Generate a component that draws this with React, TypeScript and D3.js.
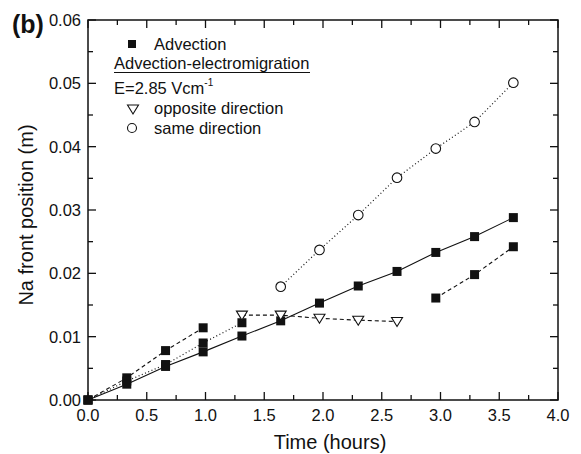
import * as d3 from 'd3'
import { FC } from 'react'

const WIDTH = 581
const HEIGHT = 454
const MARGIN = { top: 20, right: 23, bottom: 54, left: 88 }
const FONT = 'Liberation Sans, Arial, sans-serif'

// Advection, solid line
const advTime = [0, 0.33, 0.66, 0.98, 1.31, 1.64, 1.97, 2.3, 2.63, 2.96, 3.29, 3.62]
const advFront = [0, 0.0025, 0.0053, 0.0076, 0.0101, 0.0125, 0.0153, 0.018, 0.0203, 0.0233, 0.0258, 0.0288]

// Advection, dashed (early run)
const advDashTime = [0, 0.33, 0.66, 0.98]
const advDashFront = [0, 0.0035, 0.0078, 0.0114]

// Advection, dotted
const advDotTime = [0, 0.33, 0.66, 0.98, 1.31]
const advDotFront = [0, 0.003, 0.0056, 0.009, 0.0122]

// Advection, dashed (late run)
const advLateTime = [2.96, 3.29, 3.62]
const advLateFront = [0.0161, 0.0198, 0.0242]

// opposite direction (triangles)
const oppTime = [1.31, 1.64, 1.97, 2.3, 2.63]
const oppFront = [0.0134, 0.0134, 0.0129, 0.0126, 0.0124]

// same direction (circles)
const sameTime = [1.64, 1.97, 2.3, 2.63, 2.96, 3.29, 3.62]
const sameFront = [0.0179, 0.0237, 0.0292, 0.0351, 0.0397, 0.0439, 0.0501]

const xTicks = [0, 0.5, 1, 1.5, 2, 2.5, 3, 3.5, 4]
const yTicks = [0, 0.01, 0.02, 0.03, 0.04, 0.05, 0.06]

const zip = (xs: number[], ys: number[]) => xs.map((x, i) => [x, ys[i]] as [number, number])

const App: FC = () => {
  const bw = WIDTH - MARGIN.left - MARGIN.right
  const bh = HEIGHT - MARGIN.top - MARGIN.bottom

  const x = d3.scaleLinear().domain([0, 4]).range([0, bw])
  const y = d3.scaleLinear().domain([0, 0.06]).range([bh, 0])
  const line = d3.line().x((d) => x(d[0])).y((d) => y(d[1]))

  const xMinor = d3.range(0.25, 4, 0.5)
  const yMinor = d3.range(0.005, 0.06, 0.01)

  const squares = (pts: [number, number][], k: string) =>
    pts.map((p, i) => (
      <rect key={k + i} x={x(p[0]) - 4.5} y={y(p[1]) - 4.5} width={9} height={9} fill='#111' />
    ))

  const tri = (cx: number, cy: number) =>
    `M${cx - 5.5},${cy - 4}L${cx + 5.5},${cy - 4}L${cx},${cy + 5}Z`

  return (
    <svg width={WIDTH} height={HEIGHT} style={{ position: 'absolute', left: 0, top: 0 }}
      fontFamily={FONT}>
      <rect width={WIDTH} height={HEIGHT} fill='white' />
      <text x={12} y={33} fontSize={25} fontWeight='bold' fill='#111'>(b)</text>
      <g transform={`translate(${MARGIN.left},${MARGIN.top})`}>
        {/* frame */}
        <rect x={0} y={0} width={bw} height={bh} fill='none' stroke='#111' strokeWidth={1.5} />

        {/* ticks, inside on all four sides */}
        {xTicks.map((t) => (
          <g key={'xt' + t}>
            <line x1={x(t)} x2={x(t)} y1={bh} y2={bh - 8} stroke='#111' strokeWidth={1.3} />
            <line x1={x(t)} x2={x(t)} y1={0} y2={8} stroke='#111' strokeWidth={1.3} />
            <text x={x(t)} y={bh + 21} fontSize={16.5} textAnchor='middle' fill='#111'>{t.toFixed(1)}</text>
          </g>
        ))}
        {xMinor.map((t) => (
          <g key={'xm' + t}>
            <line x1={x(t)} x2={x(t)} y1={bh} y2={bh - 5} stroke='#111' strokeWidth={1.3} />
            <line x1={x(t)} x2={x(t)} y1={0} y2={5} stroke='#111' strokeWidth={1.3} />
          </g>
        ))}
        {yTicks.map((t) => (
          <g key={'yt' + t}>
            <line x1={0} x2={8} y1={y(t)} y2={y(t)} stroke='#111' strokeWidth={1.3} />
            <line x1={bw} x2={bw - 8} y1={y(t)} y2={y(t)} stroke='#111' strokeWidth={1.3} />
            <text x={-7} y={y(t) + 6} fontSize={16.5} textAnchor='end' fill='#111'>{t.toFixed(2)}</text>
          </g>
        ))}
        {yMinor.map((t) => (
          <g key={'ym' + t}>
            <line x1={0} x2={5} y1={y(t)} y2={y(t)} stroke='#111' strokeWidth={1.3} />
            <line x1={bw} x2={bw - 5} y1={y(t)} y2={y(t)} stroke='#111' strokeWidth={1.3} />
          </g>
        ))}

        {/* axis titles */}
        <text x={242} y={bh + 49} fontSize={20} textAnchor='middle' fill='#111'>Time (hours)</text>
        <text transform={`translate(${-55},${195}) rotate(-90)`} fontSize={20} textAnchor='middle' fill='#111'>
          Na front position (m)
        </text>

        {/* lines */}
        <path d={line(zip(advTime, advFront)) as string} fill='none' stroke='#111' strokeWidth={1.1} />
        <path d={line(zip(advDashTime, advDashFront)) as string} fill='none' stroke='#111' strokeWidth={1.1} strokeDasharray='4,3' />
        <path d={line(zip(advDotTime, advDotFront)) as string} fill='none' stroke='#111' strokeWidth={1.2} strokeDasharray='1,2.5' />
        <path d={line(zip(advLateTime, advLateFront)) as string} fill='none' stroke='#111' strokeWidth={1.1} strokeDasharray='4,3' />
        <path d={line(zip(oppTime, oppFront)) as string} fill='none' stroke='#111' strokeWidth={1.1} strokeDasharray='4,3' />
        <path d={line(zip(sameTime, sameFront)) as string} fill='none' stroke='#111' strokeWidth={1.2} strokeDasharray='1,2.5' />

        {/* markers */}
        {squares(zip(advDashTime, advDashFront), 'ad')}
        {squares(zip(advDotTime, advDotFront), 'ao')}
        {squares(zip(advTime, advFront), 'a')}
        {squares(zip(advLateTime, advLateFront), 'al')}
        {zip(oppTime, oppFront).map((p, i) => (
          <path key={'o' + i} d={tri(x(p[0]), y(p[1]))} fill='white' stroke='#111' strokeWidth={1.1} />
        ))}
        {zip(sameTime, sameFront).map((p, i) => (
          <circle key={'s' + i} cx={x(p[0])} cy={y(p[1])} r={4.8} fill='white' stroke='#111' strokeWidth={1.1} />
        ))}

        {/* legend */}
        <g fontSize={16.5} fill='#111'>
          <rect x={40} y={20} width={8} height={8} fill='#111' />
          <text x={66} y={30}>Advection</text>
          <text x={26} y={49}>Advection-electromigration</text>
          <line x1={26} x2={222} y1={52.5} y2={52.5} stroke='#111' strokeWidth={1} />
          <text x={26} y={74}>E=2.85 Vcm<tspan dy={-8} fontSize={10}>-1</tspan></text>
          <path d={tri(45, 89)} fill='white' stroke='#111' strokeWidth={1.1} />
          <text x={66} y={94}>opposite direction</text>
          <circle cx={44} cy={108} r={4.5} fill='white' stroke='#111' strokeWidth={1.1} />
          <text x={66} y={114}>same direction</text>
        </g>
      </g>
    </svg>
  )
}

export default App
